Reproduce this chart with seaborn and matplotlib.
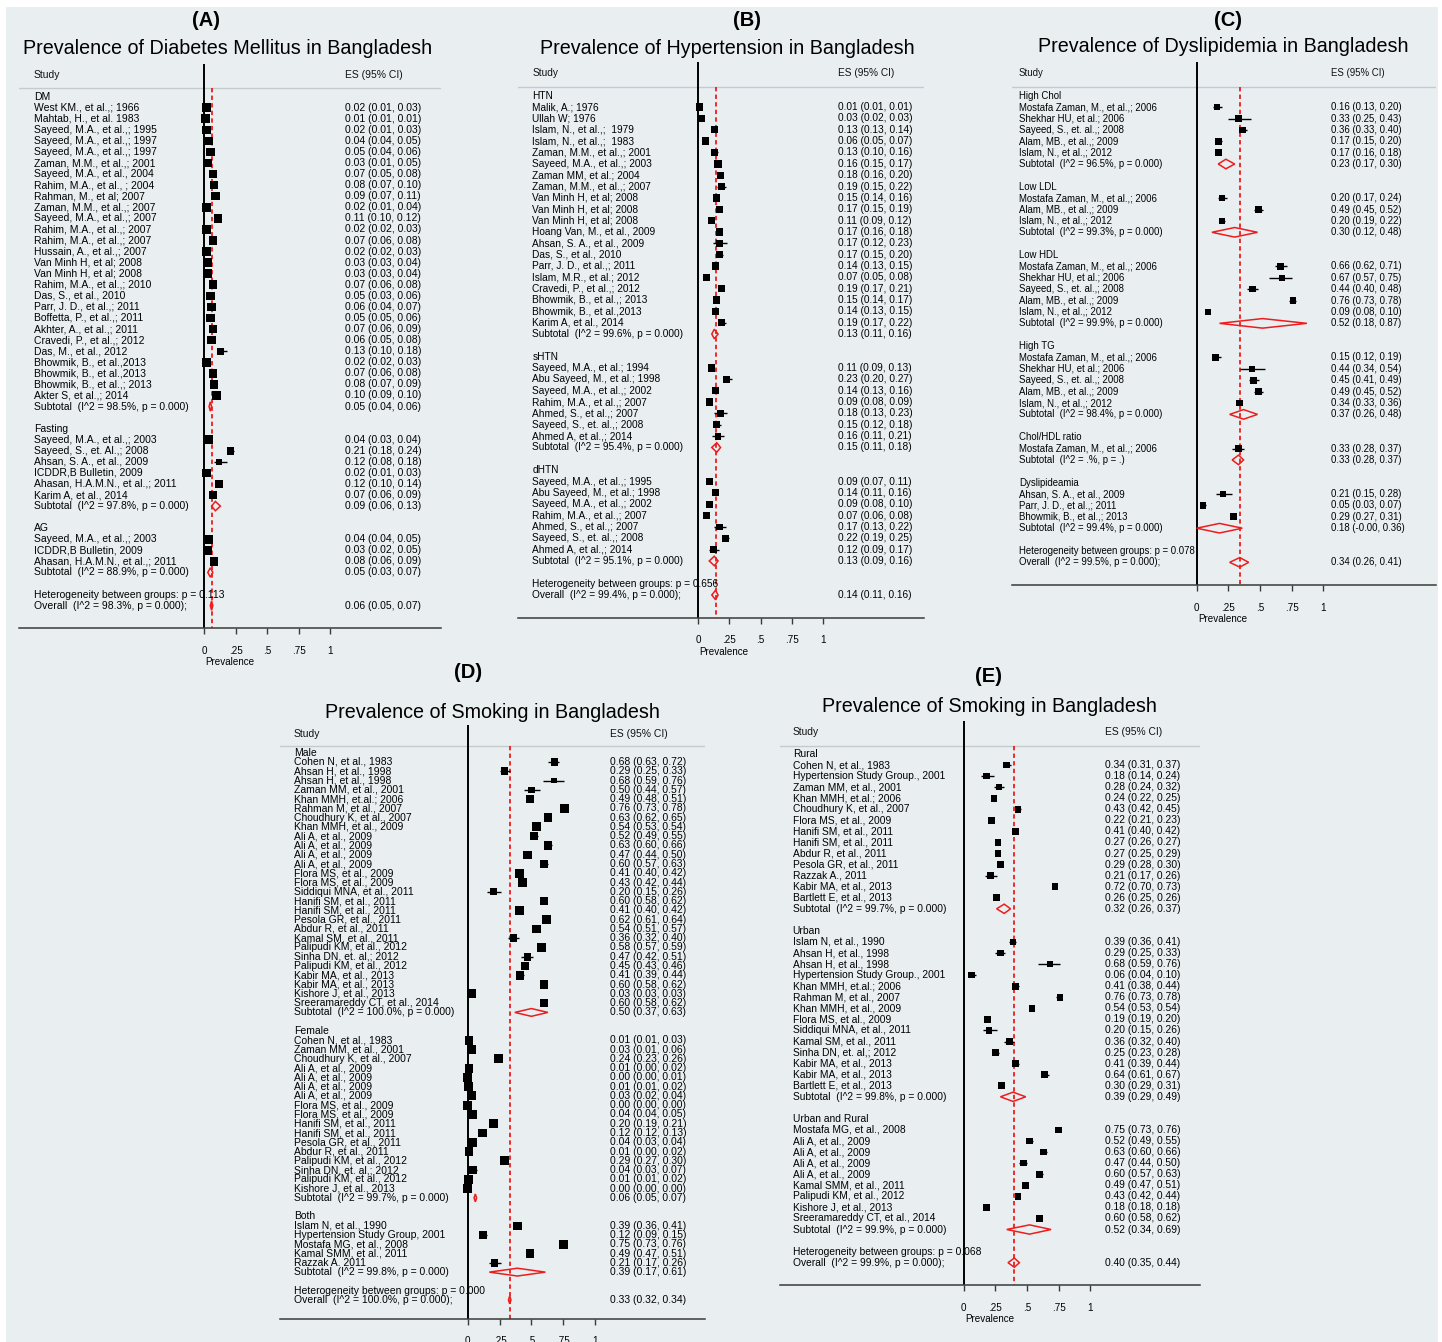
import numpy as np
import pandas as pd
import matplotlib
matplotlib.use("Agg")
import matplotlib.pyplot as plt
import seaborn as sns
from matplotlib.patches import Polygon, Rectangle

# ---------------------------------------------------------------- data
# (A) Diabetes mellitus
a_groups = ["DM", "Fasting", "AG"]
a_dm_study = ["West KM., et al.,; 1966", "Mahtab, H., et al. 1983", "Sayeed, M.A., et al.,; 1995",
              "Sayeed, M.A., et al.,; 1997", "Sayeed, M.A., et al.,; 1997", "Zaman, M.M., et al.,; 2001",
              "Sayeed, M.A., et al., 2004", "Rahim, M.A., et al., ; 2004", "Rahman, M., et al; 2007",
              "Zaman, M.M., et al.,; 2007", "Sayeed, M.A., et al.,; 2007", "Rahim, M.A., et al.,; 2007",
              "Rahim, M.A., et al.,; 2007", "Hussain, A., et al.,; 2007", "Van Minh H, et al; 2008",
              "Van Minh H, et al; 2008", "Rahim, M.A., et al.,; 2010", "Das, S., et al., 2010",
              "Parr, J. D., et al.,; 2011", "Boffetta, P., et al.,; 2011", "Akhter, A., et al.,; 2011",
              "Cravedi, P., et al.,; 2012", "Das, M., et al., 2012", "Bhowmik, B., et al.,2013",
              "Bhowmik, B., et al.,2013", "Bhowmik, B., et al.,; 2013", "Akter S, et al.,; 2014"]
a_dm_es = [0.02, 0.01, 0.02, 0.04, 0.05, 0.03, 0.07, 0.08, 0.09, 0.02, 0.11, 0.02, 0.07, 0.02,
           0.03, 0.03, 0.07, 0.05, 0.06, 0.05, 0.07, 0.06, 0.13, 0.02, 0.07, 0.08, 0.10]
a_dm_lo = [0.01, 0.01, 0.01, 0.04, 0.04, 0.01, 0.05, 0.07, 0.07, 0.01, 0.10, 0.02, 0.06, 0.02,
           0.03, 0.03, 0.06, 0.03, 0.04, 0.05, 0.06, 0.05, 0.10, 0.02, 0.06, 0.07, 0.09]
a_dm_hi = [0.03, 0.01, 0.03, 0.05, 0.06, 0.05, 0.08, 0.10, 0.11, 0.04, 0.12, 0.03, 0.08, 0.03,
           0.04, 0.04, 0.08, 0.06, 0.07, 0.06, 0.09, 0.08, 0.18, 0.03, 0.08, 0.09, 0.10]
a_fast_study = ["Sayeed, M.A., et al.,; 2003", "Sayeed, S., et. Al.,; 2008", "Ahsan, S. A., et al., 2009",
                "ICDDR,B Bulletin, 2009", "Ahasan, H.A.M.N., et al.,; 2011", "Karim A, et al., 2014"]
a_fast_es = [0.04, 0.21, 0.12, 0.02, 0.12, 0.07]
a_fast_lo = [0.03, 0.18, 0.08, 0.01, 0.10, 0.06]
a_fast_hi = [0.04, 0.24, 0.18, 0.03, 0.14, 0.09]
a_ag_study = ["Sayeed, M.A., et al.,; 2003", "ICDDR,B Bulletin, 2009", "Ahasan, H.A.M.N., et al.,; 2011"]
a_ag_es = [0.04, 0.03, 0.08]
a_ag_lo = [0.04, 0.02, 0.06]
a_ag_hi = [0.05, 0.05, 0.09]
a_sub_es = [0.05, 0.09, 0.05]
a_sub_lo = [0.04, 0.06, 0.03]
a_sub_hi = [0.06, 0.13, 0.07]
a_sub_i2 = ["98.5%", "97.8%", "88.9%"]
a_sub_p = ["0.000", "0.000", "0.000"]
a_het_p = "0.113"
a_overall = [0.06, 0.05, 0.07]
a_overall_i2 = "98.3%"

# (B) Hypertension
b_groups = ["HTN", "sHTN", "dHTN"]
b_htn_study = ["Malik, A.; 1976", "Ullah W; 1976", "Islam, N., et al.,;  1979", "Islam, N., et al.,;  1983",
               "Zaman, M.M., et al.,; 2001", "Sayeed, M.A., et al.,; 2003", "Zaman MM, et al.; 2004",
               "Zaman, M.M., et al.,; 2007", "Van Minh H, et al; 2008", "Van Minh H, et al; 2008",
               "Van Minh H, et al; 2008", "Hoang Van, M., et al., 2009", "Ahsan, S. A., et al., 2009",
               "Das, S., et al., 2010", "Parr, J. D., et al.,; 2011", "Islam, M.R., et al.; 2012",
               "Cravedi, P., et al.,; 2012", "Bhowmik, B., et al.,; 2013", "Bhowmik, B., et al.,2013",
               "Karim A, et al., 2014"]
b_htn_es = [0.01, 0.03, 0.13, 0.06, 0.13, 0.16, 0.18, 0.19, 0.15, 0.17,
            0.11, 0.17, 0.17, 0.17, 0.14, 0.07, 0.19, 0.15, 0.14, 0.19]
b_htn_lo = [0.01, 0.02, 0.13, 0.05, 0.10, 0.15, 0.16, 0.15, 0.14, 0.15,
            0.09, 0.16, 0.12, 0.15, 0.13, 0.05, 0.17, 0.14, 0.13, 0.17]
b_htn_hi = [0.01, 0.03, 0.14, 0.07, 0.16, 0.17, 0.20, 0.22, 0.16, 0.19,
            0.12, 0.18, 0.23, 0.20, 0.15, 0.08, 0.21, 0.17, 0.15, 0.22]
b_shtn_study = ["Sayeed, M.A., et al.; 1994", "Abu Sayeed, M., et al.; 1998", "Sayeed, M.A., et al.,; 2002",
                "Rahim, M.A., et al.,; 2007", "Ahmed, S., et al.,; 2007", "Sayeed, S., et. al.,; 2008",
                "Ahmed A, et al.,; 2014"]
b_shtn_es = [0.11, 0.23, 0.14, 0.09, 0.18, 0.15, 0.16]
b_shtn_lo = [0.09, 0.20, 0.13, 0.08, 0.13, 0.12, 0.11]
b_shtn_hi = [0.13, 0.27, 0.16, 0.09, 0.23, 0.18, 0.21]
b_dhtn_study = ["Sayeed, M.A., et al.,; 1995", "Abu Sayeed, M., et al.; 1998", "Sayeed, M.A., et al.,; 2002",
                "Rahim, M.A., et al.,; 2007", "Ahmed, S., et al.,; 2007", "Sayeed, S., et. al.,; 2008",
                "Ahmed A, et al.,; 2014"]
b_dhtn_es = [0.09, 0.14, 0.09, 0.07, 0.17, 0.22, 0.12]
b_dhtn_lo = [0.07, 0.11, 0.08, 0.06, 0.13, 0.19, 0.09]
b_dhtn_hi = [0.11, 0.16, 0.10, 0.08, 0.22, 0.25, 0.17]
b_sub_es = [0.13, 0.15, 0.13]
b_sub_lo = [0.11, 0.11, 0.09]
b_sub_hi = [0.16, 0.18, 0.16]
b_sub_i2 = ["99.6%", "95.4%", "95.1%"]
b_sub_p = ["0.000", "0.000", "0.000"]
b_het_p = "0.656"
b_overall = [0.14, 0.11, 0.16]
b_overall_i2 = "99.4%"

# (C) Dyslipidemia
c_groups = ["High Chol", "Low LDL", "Low HDL", "High TG", "Chol/HDL ratio", "Dyslipideamia"]
c_chol_study = ["Mostafa Zaman, M., et al.,; 2006", "Shekhar HU, et al.; 2006", "Sayeed, S., et. al.,; 2008",
                "Alam, MB., et al.,; 2009", "Islam, N., et al.,; 2012"]
c_chol_es = [0.16, 0.33, 0.36, 0.17, 0.17]
c_chol_lo = [0.13, 0.25, 0.33, 0.15, 0.16]
c_chol_hi = [0.20, 0.43, 0.40, 0.20, 0.18]
c_ldl_study = ["Mostafa Zaman, M., et al.,; 2006", "Alam, MB., et al.,; 2009", "Islam, N., et al.,; 2012"]
c_ldl_es = [0.20, 0.49, 0.20]
c_ldl_lo = [0.17, 0.45, 0.19]
c_ldl_hi = [0.24, 0.52, 0.22]
c_hdl_study = ["Mostafa Zaman, M., et al.,; 2006", "Shekhar HU, et al.; 2006", "Sayeed, S., et. al.,; 2008",
               "Alam, MB., et al.,; 2009", "Islam, N., et al.,; 2012"]
c_hdl_es = [0.66, 0.67, 0.44, 0.76, 0.09]
c_hdl_lo = [0.62, 0.57, 0.40, 0.73, 0.08]
c_hdl_hi = [0.71, 0.75, 0.48, 0.78, 0.10]
c_tg_study = ["Mostafa Zaman, M., et al.,; 2006", "Shekhar HU, et al.; 2006", "Sayeed, S., et. al.,; 2008",
              "Alam, MB., et al.,; 2009", "Islam, N., et al.,; 2012"]
c_tg_es = [0.15, 0.44, 0.45, 0.49, 0.34]
c_tg_lo = [0.12, 0.34, 0.41, 0.45, 0.33]
c_tg_hi = [0.19, 0.54, 0.49, 0.52, 0.36]
c_ratio_study = ["Mostafa Zaman, M., et al.,; 2006"]
c_ratio_es = [0.33]
c_ratio_lo = [0.28]
c_ratio_hi = [0.37]
c_dys_study = ["Ahsan, S. A., et al., 2009", "Parr, J. D., et al.,; 2011", "Bhowmik, B., et al.,; 2013"]
c_dys_es = [0.21, 0.05, 0.29]
c_dys_lo = [0.15, 0.03, 0.27]
c_dys_hi = [0.28, 0.07, 0.31]
c_sub_es = [0.23, 0.30, 0.52, 0.37, 0.33, 0.18]
c_sub_lo = [0.17, 0.12, 0.18, 0.26, 0.28, -0.0]
c_sub_hi = [0.30, 0.48, 0.87, 0.48, 0.37, 0.36]
c_sub_i2 = ["96.5%", "99.3%", "99.9%", "98.4%", ".%", "99.4%"]
c_sub_p = ["0.000", "0.000", "0.000", "0.000", ".", "0.000"]
c_het_p = "0.078"
c_overall = [0.34, 0.26, 0.41]
c_overall_i2 = "99.5%"

# (D) Smoking by sex
d_groups = ["Male", "Female", "Both"]
d_male_study = ["Cohen N, et al., 1983", "Ahsan H, et al., 1998", "Ahsan H, et al., 1998",
                "Zaman MM, et al., 2001", "Khan MMH, et.al.; 2006", "Rahman M, et al., 2007",
                "Choudhury K, et al., 2007", "Khan MMH, et al., 2009", "Ali A, et al., 2009",
                "Ali A, et al., 2009", "Ali A, et al., 2009", "Ali A, et al., 2009",
                "Flora MS, et al., 2009", "Flora MS, et al., 2009", "Siddiqui MNA, et al., 2011",
                "Hanifi SM, et al., 2011", "Hanifi SM, et al., 2011", "Pesola GR, et al., 2011",
                "Abdur R, et al., 2011", "Kamal SM, et al., 2011", "Palipudi KM, et al., 2012",
                "Sinha DN, et. al,; 2012", "Palipudi KM, et al., 2012", "Kabir MA, et al., 2013",
                "Kabir MA, et al., 2013", "Kishore J, et al., 2013", "Sreeramareddy CT, et al., 2014"]
d_male_es = [0.68, 0.29, 0.68, 0.50, 0.49, 0.76, 0.63, 0.54, 0.52, 0.63, 0.47, 0.60, 0.41, 0.43,
             0.20, 0.60, 0.41, 0.62, 0.54, 0.36, 0.58, 0.47, 0.45, 0.41, 0.60, 0.03, 0.60]
d_male_lo = [0.63, 0.25, 0.59, 0.44, 0.48, 0.73, 0.62, 0.53, 0.49, 0.60, 0.44, 0.57, 0.40, 0.42,
             0.15, 0.58, 0.40, 0.61, 0.51, 0.32, 0.57, 0.42, 0.43, 0.39, 0.58, 0.03, 0.58]
d_male_hi = [0.72, 0.33, 0.76, 0.57, 0.51, 0.78, 0.65, 0.54, 0.55, 0.66, 0.50, 0.63, 0.42, 0.44,
             0.26, 0.62, 0.42, 0.64, 0.57, 0.40, 0.59, 0.51, 0.46, 0.44, 0.62, 0.03, 0.62]
d_female_study = ["Cohen N, et al., 1983", "Zaman MM, et al., 2001", "Choudhury K, et al., 2007",
                  "Ali A, et al., 2009", "Ali A, et al., 2009", "Ali A, et al., 2009", "Ali A, et al., 2009",
                  "Flora MS, et al., 2009", "Flora MS, et al., 2009", "Hanifi SM, et al., 2011",
                  "Hanifi SM, et al., 2011", "Pesola GR, et al., 2011", "Abdur R, et al., 2011",
                  "Palipudi KM, et al., 2012", "Sinha DN, et. al,; 2012", "Palipudi KM, et al., 2012",
                  "Kishore J, et al., 2013"]
d_female_es = [0.01, 0.03, 0.24, 0.01, 0.00, 0.01, 0.03, 0.00, 0.04, 0.20, 0.12, 0.04, 0.01,
               0.29, 0.04, 0.01, 0.00]
d_female_lo = [0.01, 0.01, 0.23, 0.00, 0.00, 0.01, 0.02, 0.00, 0.04, 0.19, 0.12, 0.03, 0.00,
               0.27, 0.03, 0.01, 0.00]
d_female_hi = [0.03, 0.06, 0.26, 0.02, 0.01, 0.02, 0.04, 0.00, 0.05, 0.21, 0.13, 0.04, 0.02,
               0.30, 0.07, 0.02, 0.00]
d_both_study = ["Islam N, et al., 1990", "Hypertension Study Group, 2001", "Mostafa MG, et al., 2008",
                "Kamal SMM, et al., 2011", "Razzak A. 2011"]
d_both_es = [0.39, 0.12, 0.75, 0.49, 0.21]
d_both_lo = [0.36, 0.09, 0.73, 0.47, 0.17]
d_both_hi = [0.41, 0.15, 0.76, 0.51, 0.26]
d_sub_es = [0.50, 0.06, 0.39]
d_sub_lo = [0.37, 0.05, 0.17]
d_sub_hi = [0.63, 0.07, 0.61]
d_sub_i2 = ["100.0%", "99.7%", "99.8%"]
d_sub_p = ["0.000", "0.000", "0.000"]
d_het_p = "0.000"
d_overall = [0.33, 0.32, 0.34]
d_overall_i2 = "100.0%"

# (E) Smoking by residence
e_groups = ["Rural", "Urban", "Urban and Rural"]
e_rural_study = ["Cohen N, et al., 1983", "Hypertension Study Group., 2001", "Zaman MM, et al., 2001",
                 "Khan MMH, et.al.; 2006", "Choudhury K, et al., 2007", "Flora MS, et al., 2009",
                 "Hanifi SM, et al., 2011", "Hanifi SM, et al., 2011", "Abdur R, et al., 2011",
                 "Pesola GR, et al., 2011", "Razzak A., 2011", "Kabir MA, et al., 2013",
                 "Bartlett E, et al., 2013"]
e_rural_es = [0.34, 0.18, 0.28, 0.24, 0.43, 0.22, 0.41, 0.27, 0.27, 0.29, 0.21, 0.72, 0.26]
e_rural_lo = [0.31, 0.14, 0.24, 0.22, 0.42, 0.21, 0.40, 0.26, 0.25, 0.28, 0.17, 0.70, 0.25]
e_rural_hi = [0.37, 0.24, 0.32, 0.25, 0.45, 0.23, 0.42, 0.27, 0.29, 0.30, 0.26, 0.73, 0.26]
e_urban_study = ["Islam N, et al., 1990", "Ahsan H, et al., 1998", "Ahsan H, et al., 1998",
                 "Hypertension Study Group., 2001", "Khan MMH, et.al.; 2006", "Rahman M, et al., 2007",
                 "Khan MMH, et al., 2009", "Flora MS, et al., 2009", "Siddiqui MNA, et al., 2011",
                 "Kamal SM, et al., 2011", "Sinha DN, et. al,; 2012", "Kabir MA, et al., 2013",
                 "Kabir MA, et al., 2013", "Bartlett E, et al., 2013"]
e_urban_es = [0.39, 0.29, 0.68, 0.06, 0.41, 0.76, 0.54, 0.19, 0.20, 0.36, 0.25, 0.41, 0.64, 0.30]
e_urban_lo = [0.36, 0.25, 0.59, 0.04, 0.38, 0.73, 0.53, 0.19, 0.15, 0.32, 0.23, 0.39, 0.61, 0.29]
e_urban_hi = [0.41, 0.33, 0.76, 0.10, 0.44, 0.78, 0.54, 0.20, 0.26, 0.40, 0.28, 0.44, 0.67, 0.31]
e_mixed_study = ["Mostafa MG, et al., 2008", "Ali A, et al., 2009", "Ali A, et al., 2009",
                 "Ali A, et al., 2009", "Ali A, et al., 2009", "Kamal SMM, et al., 2011",
                 "Palipudi KM, et al., 2012", "Kishore J, et al., 2013", "Sreeramareddy CT, et al., 2014"]
e_mixed_es = [0.75, 0.52, 0.63, 0.47, 0.60, 0.49, 0.43, 0.18, 0.60]
e_mixed_lo = [0.73, 0.49, 0.60, 0.44, 0.57, 0.47, 0.42, 0.18, 0.58]
e_mixed_hi = [0.76, 0.55, 0.66, 0.50, 0.63, 0.51, 0.44, 0.18, 0.62]
e_sub_es = [0.32, 0.39, 0.52]
e_sub_lo = [0.26, 0.29, 0.34]
e_sub_hi = [0.37, 0.49, 0.69]
e_sub_i2 = ["99.7%", "99.8%", "99.9%"]
e_sub_p = ["0.000", "0.000", "0.000"]
e_het_p = "0.068"
e_overall = [0.40, 0.35, 0.44]
e_overall_i2 = "99.9%"

panel_titles = ["Prevalence of Diabetes Mellitus in Bangladesh",
                "Prevalence of Hypertension in Bangladesh",
                "Prevalence of Dyslipidemia in Bangladesh",
                "Prevalence of Smoking in Bangladesh",
                "Prevalence of Smoking in Bangladesh"]
panel_tags = ["(A)", "(B)", "(C)", "(D)", "(E)"]
tick_values = [0, 0.25, 0.5, 0.75, 1]
tick_labels = ["0", ".25", ".5", ".75", "1"]

# ---------------------------------------------------------------- style
W, H = 1442, 1342
BG = "#e9eff1"
RED = "#ee1c1c"
plt.rcParams["font.family"] = ["Liberation Sans", "DejaVu Sans"]


def build_table(groups, studies, es, lo, hi, sub_es, sub_lo, sub_hi, sub_i2, sub_p,
                het_p, overall, overall_i2):
    recs = []
    r = 0
    for g, (st, e, l, h) in enumerate(zip(studies, es, lo, hi)):
        recs.append(dict(row=r, kind="group", label=groups[g]))
        r += 1
        for name, v, a, b in zip(st, e, l, h):
            recs.append(dict(row=r, kind="study", label=name, es=v, lo=a, hi=b))
            r += 1
        recs.append(dict(row=r, kind="sub", es=sub_es[g], lo=sub_lo[g], hi=sub_hi[g],
                         label=f"Subtotal  (I^2 = {sub_i2[g]}, p = {sub_p[g]})"))
        r += 2
    recs.append(dict(row=r, kind="het", label=f"Heterogeneity between groups: p = {het_p}"))
    r += 1
    recs.append(dict(row=r, kind="overall", es=overall[0], lo=overall[1], hi=overall[2],
                     label=f"Overall  (I^2 = {overall_i2}, p = 0.000);"))
    return pd.DataFrame(recs)


tables = [
    build_table(a_groups, [a_dm_study, a_fast_study, a_ag_study], [a_dm_es, a_fast_es, a_ag_es],
                [a_dm_lo, a_fast_lo, a_ag_lo], [a_dm_hi, a_fast_hi, a_ag_hi],
                a_sub_es, a_sub_lo, a_sub_hi, a_sub_i2, a_sub_p, a_het_p, a_overall, a_overall_i2),
    build_table(b_groups, [b_htn_study, b_shtn_study, b_dhtn_study], [b_htn_es, b_shtn_es, b_dhtn_es],
                [b_htn_lo, b_shtn_lo, b_dhtn_lo], [b_htn_hi, b_shtn_hi, b_dhtn_hi],
                b_sub_es, b_sub_lo, b_sub_hi, b_sub_i2, b_sub_p, b_het_p, b_overall, b_overall_i2),
    build_table(c_groups,
                [c_chol_study, c_ldl_study, c_hdl_study, c_tg_study, c_ratio_study, c_dys_study],
                [c_chol_es, c_ldl_es, c_hdl_es, c_tg_es, c_ratio_es, c_dys_es],
                [c_chol_lo, c_ldl_lo, c_hdl_lo, c_tg_lo, c_ratio_lo, c_dys_lo],
                [c_chol_hi, c_ldl_hi, c_hdl_hi, c_tg_hi, c_ratio_hi, c_dys_hi],
                c_sub_es, c_sub_lo, c_sub_hi, c_sub_i2, c_sub_p, c_het_p, c_overall, c_overall_i2),
    build_table(d_groups, [d_male_study, d_female_study, d_both_study],
                [d_male_es, d_female_es, d_both_es], [d_male_lo, d_female_lo, d_both_lo],
                [d_male_hi, d_female_hi, d_both_hi],
                d_sub_es, d_sub_lo, d_sub_hi, d_sub_i2, d_sub_p, d_het_p, d_overall, d_overall_i2),
    build_table(e_groups, [e_rural_study, e_urban_study, e_mixed_study],
                [e_rural_es, e_urban_es, e_mixed_es], [e_rural_lo, e_urban_lo, e_mixed_lo],
                [e_rural_hi, e_urban_hi, e_mixed_hi],
                e_sub_es, e_sub_lo, e_sub_hi, e_sub_i2, e_sub_p, e_het_p, e_overall, e_overall_i2),
]

# panel geometry in pixels: left, right, x of 0, px per unit, y of top row, y of axis line
geometry = [
    dict(left=19, right=441, zero=204.0, scale=126.3, top=63.5, bottom=627.8,
         study_x=33.7, es_x=344.7, fs=7.45, box=8.8, tau=0.0008, title_xy=(228, 49), tag_xy=(206, 20)),
    dict(left=518, right=924, zero=698.0, scale=125.3, top=61.7, bottom=617.7,
         study_x=532.3, es_x=838.3, fs=7.3, box=7.4, tau=0.003, title_xy=(727, 48), tag_xy=(747, 20)),
    dict(left=1012, right=1436, zero=1196.7, scale=126.7, top=61.6, bottom=585.1,
         study_x=1019, es_x=1331, fs=6.9, box=6.7, tau=0.01, title_xy=(1223, 47), tag_xy=(1228, 20)),
    dict(left=280, right=705, zero=467.7, scale=127.3, top=724.9, bottom=1318.5,
         study_x=294, es_x=610, fs=7.45, box=9.0, tau=0.0012, title_xy=(492, 712), tag_xy=(468, 673)),
    dict(left=780, right=1200, zero=963.7, scale=126.6, top=720.8, bottom=1284.8,
         study_x=792.7, es_x=1105, fs=7.4, box=6.7, tau=0.01, title_xy=(989, 706), tag_xy=(988, 676)),
]

fig = plt.figure(figsize=(W / 100, H / 100), dpi=100, facecolor="white")
fig.patches.append(Rectangle((6 / W, 0), (1438 - 6) / W, 1 - 7 / H, transform=fig.transFigure,
                             facecolor=BG, edgecolor="none", zorder=-10))


def draw_forest(df, g, title, tag):
    last = df["row"].max()
    ybot = last + 2
    ax = fig.add_axes([g["left"] / W, 1 - g["bottom"] / H,
                       (g["right"] - g["left"]) / W, (g["bottom"] - g["top"]) / H])
    ax.patch.set_visible(False)
    px = lambda p: (p - g["zero"]) / g["scale"]
    xs, xe = px(g["study_x"]), px(g["es_x"])
    fs = g["fs"]

    ov = df.loc[df["kind"] == "overall", "es"].iloc[0]
    ax.axvline(0, color="black", lw=1.4, zorder=2)
    ax.axhline(-0.75, color="#c3cbcf", lw=1.0, zorder=1)
    ax.plot([ov, ov], [-0.75, ybot], color=RED, lw=1.3, ls=(0, (2.4, 1.8)), zorder=2)

    ax.text(xs, -2, "Study", fontsize=fs, va="center", ha="left", color="#111")
    ax.text(xe, -2, "ES (95% CI)", fontsize=fs, va="center", ha="left", color="#111")
    for _, r in df.iterrows():
        ax.text(xs, r["row"], r["label"], fontsize=fs, va="center", ha="left", color="black")
        if r["kind"] in ("study", "sub", "overall"):
            ax.text(xe, r["row"], f"{r['es']:.2f} ({r['lo']:.2f}, {r['hi']:.2f})",
                    fontsize=fs, va="center", ha="left", color="black")

    st = df[df["kind"] == "study"].copy()
    se = (st["hi"] - st["lo"]) / 3.92
    side = g["box"] * np.sqrt(g["tau"] / (g["tau"] + se ** 2))
    st["s"] = (side * 0.72) ** 2
    ax.hlines(st["row"], st["lo"], st["hi"], color="black", lw=1.0, zorder=3)
    sns.scatterplot(data=st, x="es", y="row", marker="s", s=st["s"].values, color="black",
                    edgecolor="none", linewidth=0, legend=False, ax=ax, zorder=4)

    hh = 0.42
    for _, r in df[df["kind"].isin(["sub", "overall"])].iterrows():
        y = r["row"]
        poly = Polygon([(r["lo"], y), (r["es"], y - hh), (r["hi"], y), (r["es"], y + hh)],
                       closed=True, facecolor="none", edgecolor=RED, lw=1.1, zorder=5)
        ax.add_patch(poly)

    ax.set_xlim(px(g["left"]), px(g["right"]))
    ax.set_ylim(ybot, -3)
    for side_name in ("top", "left", "right"):
        ax.spines[side_name].set_visible(False)
    ax.spines["bottom"].set_color("#3a3a3a")
    ax.spines["bottom"].set_linewidth(1.1)
    ax.set_xticks(tick_values)
    ax.set_xticklabels(tick_labels)
    ax.set_yticks([])
    ax.tick_params(axis="x", length=4.3, width=1.0, color="#3a3a3a", pad=8.5, labelsize=7.1)
    ax.set_xlabel("")
    ax.set_ylabel("")
    ax.annotate("Prevalence", xy=(0, 0), xycoords=("data", "axes fraction"),
                xytext=(0.8, -34 * 0.72), textcoords="offset points",
                ha="left", va="center", fontsize=7.1)

    tx, ty = g["title_xy"]
    fig.text(tx / W, 1 - ty / H, title, fontsize=14.2, ha="center", va="center")
    gx, gy = g["tag_xy"]
    fig.text(gx / W, 1 - gy / H, tag, fontsize=14.5, fontweight="bold", ha="center", va="center")


for df, g, ttl, tg in zip(tables, geometry, panel_titles, panel_tags):
    draw_forest(df, g, ttl, tg)

fig.savefig("out.png", dpi=100, facecolor="white")
